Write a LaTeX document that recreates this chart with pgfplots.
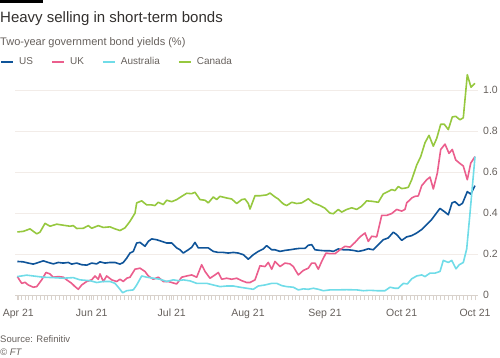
\documentclass[border=0pt]{standalone}
\usepackage{pgfplots}
\pgfplotsset{compat=1.18}
\usepackage{fontspec}
\setmainfont{Liberation Sans}
\definecolor{ftblue}{HTML}{0F5499}
\definecolor{ftpink}{HTML}{EB5E8D}
\definecolor{ftcyan}{HTML}{70DCE8}
\definecolor{ftgreen}{HTML}{96C83F}
\definecolor{fttext}{HTML}{33302E}
\definecolor{ftgrey}{HTML}{66605C}
\definecolor{ftgrid}{HTML}{F2ECE8}
\definecolor{fttick}{HTML}{D9D2CC}
\begin{document}
\begin{tikzpicture}[x=1pt,y=1pt]
\useasboundingbox (0,0) rectangle (500,-357);
\fill[black] (0,0) rectangle (42.7,-2.7);
\node[anchor=base west, inner sep=0pt, text=fttext, font=\fontsize{15}{17}\selectfont] at (0,-22.7) {Heavy selling in short-term bonds};
\node[anchor=base west, inner sep=0pt, text=ftgrey, font=\fontsize{11}{13}\selectfont] at (0,-45) {Two-year government bond yields (\%)};
\node[anchor=base west, inner sep=0pt, text=ftgrey, font=\fontsize{9.5}{11}\selectfont] at (0,-342.5) {Source: Refinitiv};
\node[anchor=base west, inner sep=0pt, text=ftgrey, font=\fontsize{9.5}{11}\selectfont\itshape] at (0,-355.5) {\textcopyright{} FT};
\begin{axis}[
  at={(15pt,-295pt)}, anchor=south west,
  scale only axis, x=1pt, y=204.7pt,
  xmin=15, xmax=478, ymin=0, ymax=1.1,
  enlargelimits=false, clip=false,
  axis line style={draw=none},
  ymajorgrids, grid style={ftgrid, line width=0.8pt},
  ytick={0,0.2,0.4,0.6,0.8,1.0},
  yticklabels={0,0.2,0.4,0.6,0.8,1.0},
  yticklabel pos=right,
  ytick style={draw=none},
  yticklabel style={anchor=west, inner sep=0pt, xshift=0pt},
  xtick={18.3,91.7,171.7,248,325,401.7,475},
  xticklabels={Apr 21,Jun 21,Jul 21,Aug 21,Sep 21,Oct 21,Oct 21},
  minor xtick={17.3,21.114,...,476},
  xtick pos=bottom,
  tick align=outside,
  major tick length=5pt, minor tick length=5pt,
  x tick style={fttick, line width=0.8pt},
  minor x tick style={fttick, line width=0.8pt},
  xticklabel style={anchor=north, inner sep=0pt, yshift=-9pt},
  ticklabel style={text=ftgrey, font=\fontsize{10.5}{12}\selectfont},
  /pgf/number format/assume math mode=true,
  legend columns=4,
  legend style={at={(axis cs:0,1.138)}, anchor=west, draw=none, fill=none, inner sep=0pt,
    font=\fontsize{10}{12}\selectfont, text=ftgrey,
    nodes={inner sep=0pt},
    column sep=5pt,
    /tikz/every even column/.append style={column sep=18pt}},
  legend cell align=left,
  legend image code/.code={\draw[#1, line width=2pt] (0pt,0pt) -- (12pt,0pt);},
]
\draw[fttick, line width=0.8pt] (axis cs:15,0) -- (axis cs:478,0);
\addplot[ftblue, line width=1.6pt, line join=round, mark=none] coordinates {
(17.3,0.164)(23.3,0.162)(28.3,0.156)(33.3,0.151)(36.7,0.156)(43.3,0.167)(48.3,0.159)(53.3,0.152)(58.3,0.159)(63.3,0.156)(68.3,0.159)(71.7,0.151)(76.7,0.156)(81.7,0.148)(86.7,0.146)(91.7,0.156)(96.7,0.152)(100,0.162)(105,0.156)(110,0.159)(115,0.159)(120,0.151)(123.3,0.159)(126.7,0.180)(130,0.205)(133.3,0.213)(136.7,0.254)(140,0.257)(145,0.238)(148.3,0.262)(151.7,0.274)(156.7,0.270)(161.7,0.262)(166.7,0.254)(171.7,0.254)(176.7,0.23)(180,0.221)(183.3,0.205)(188.3,0.221)(191.7,0.233)(195,0.257)(198.3,0.23)(203.3,0.23)(208.3,0.23)(213.3,0.213)(218.3,0.208)(223.3,0.208)(228.3,0.205)(233.3,0.208)(238.3,0.205)(243.3,0.197)(248.3,0.175)(253.3,0.197)(258.3,0.213)(263.3,0.225)(266.7,0.241)(271.7,0.221)(275,0.221)(280,0.213)(285,0.218)(290,0.221)(295,0.225)(300,0.228)(305,0.228)(308.3,0.243)(311.7,0.246)(315,0.221)(320,0.218)(325,0.216)(330,0.216)(333.3,0.213)(338.3,0.225)(343.3,0.221)(348.3,0.221)(353.3,0.218)(358.3,0.213)(363.3,0.218)(368.3,0.226)(373.3,0.221)(378.3,0.246)(383.3,0.27)(388.3,0.279)(393.3,0.307)(396.7,0.295)(401.7,0.267)(406.7,0.284)(411.7,0.29)(416.7,0.303)(421.7,0.32)(426.7,0.344)(431.7,0.369)(436.7,0.402)(440,0.423)(445,0.405)(448.3,0.392)(452,0.450)(455,0.456)(459,0.437)(462.5,0.448)(467.3,0.505)(470.7,0.493)(475,0.534)
};
\addlegendentry{US}
\addplot[ftpink, line width=1.6pt, line join=round, mark=none] coordinates {
(17.3,0.09)(21.7,0.057)(25,0.062)(28.3,0.049)(33.3,0.038)(36.7,0.041)(41.7,0.074)(46,0.11)(50,0.103)(53.3,0.087)(58.3,0.09)(63.3,0.087)(66.7,0.074)(71.7,0.057)(75,0.041)(78.3,0.028)(81.7,0.049)(86.7,0.066)(91.7,0.074)(95,0.093)(98.3,0.077)(100,0.103)(103.3,0.066)(106.7,0.093)(111.7,0.074)(116.7,0.066)(120,0.077)(123.3,0.066)(126.7,0.082)(130,0.087)(135,0.126)(140,0.131)(145,0.115)(148.3,0.093)(153.3,0.077)(158.3,0.087)(163.3,0.066)(168.3,0.066)(171.7,0.061)(176.7,0.054)(181.7,0.087)(186.7,0.093)(191.7,0.098)(196.7,0.087)(201.7,0.148)(205,0.115)(210,0.082)(215,0.098)(218.3,0.11)(221.7,0.077)(226.7,0.082)(231.7,0.077)(236.7,0.082)(241.7,0.07)(246.7,0.061)(250,0.061)(255,0.074)(260,0.143)(265,0.139)(268.3,0.159)(271.7,0.126)(275,0.164)(280,0.139)(285,0.156)(290,0.152)(293.3,0.139)(298.3,0.098)(303.3,0.12)(308.3,0.131)(311.7,0.156)(315,0.156)(318.3,0.126)(321.7,0.164)(326,0.205)(330,0.202)(335,0.202)(340,0.221)(345,0.238)(350,0.234)(355,0.257)(360,0.284)(365,0.303)(368.3,0.262)(371.7,0.287)(376.7,0.284)(381.7,0.389)(386.7,0.389)(391.7,0.398)(396.7,0.418)(401.7,0.41)(405,0.418)(406.7,0.45)(411.7,0.474)(415,0.482)(418.3,0.484)(421.7,0.534)(426.7,0.563)(430,0.576)(433.3,0.518)(437.3,0.595)(440.7,0.711)(445,0.737)(449,0.692)(452.3,0.711)(455.7,0.66)(459.3,0.645)(463.3,0.63)(467.3,0.563)(470.7,0.644)(475,0.676)
};
\addlegendentry{UK}
\addplot[ftcyan, line width=1.6pt, line join=round, mark=none] coordinates {
(17.3,0.09)(26.7,0.097)(33.3,0.093)(43.3,0.087)(53.3,0.085)(63.3,0.082)(73.3,0.085)(80,0.074)(90,0.070)(96.7,0.061)(103.3,0.066)(110,0.066)(115,0.057)(118.3,0.038)(122.7,0.011)(126.7,0.021)(133.3,0.025)(136.7,0.049)(141.7,0.093)(146.7,0.087)(153.3,0.082)(160,0.077)(166.7,0.066)(173.3,0.074)(178.3,0.070)(183.3,0.074)(190,0.069)(196.7,0.057)(206.7,0.057)(213.3,0.049)(220,0.041)(226.7,0.044)(233.3,0.044)(240,0.038)(246.7,0.033)(253.3,0.028)(258.3,0.044)(265,0.049)(271.7,0.057)(276.7,0.057)(281.7,0.046)(286.7,0.041)(293.3,0.038)(298.3,0.025)(303.3,0.03)(308.3,0.028)(313.3,0.033)(318.3,0.028)(323.3,0.021)(330,0.025)(336.7,0.025)(346.7,0.026)(356.7,0.025)(363.3,0.021)(370,0.023)(376.7,0.021)(385,0.021)(390,0.038)(395,0.033)(398.3,0.033)(403.3,0.057)(407.3,0.054)(411.7,0.079)(416.7,0.093)(421.7,0.098)(425,0.09)(430,0.107)(435,0.107)(440,0.115)(443.3,0.169)(448.3,0.159)(451.7,0.169)(456,0.128)(459.3,0.148)(463.3,0.159)(466.7,0.225)(470,0.40)(475,0.676)
};
\addlegendentry{Australia}
\addplot[ftgreen, line width=1.6pt, line join=round, mark=none] coordinates {
(17.3,0.308)(23.3,0.311)(30,0.323)(36.7,0.299)(40,0.307)(45,0.35)(50,0.336)(56.7,0.346)(63.3,0.341)(70,0.336)(73.3,0.339)(76.7,0.325)(83.3,0.326)(88.3,0.339)(91.7,0.326)(98.3,0.339)(103.3,0.33)(110,0.333)(115,0.323)(120,0.315)(125,0.328)(130,0.36)(135,0.40)(136.7,0.45)(141.7,0.46)(146.7,0.44)(151.7,0.44)(155,0.437)(158.3,0.453)(163.3,0.442)(166.7,0.463)(171.7,0.456)(176.7,0.466)(181.7,0.482)(186.7,0.497)(191.7,0.495)(195,0.502)(200,0.466)(205,0.463)(208.3,0.45)(213.3,0.479)(216.7,0.466)(220,0.482)(226.7,0.474)(231.7,0.469)(236.7,0.447)(241.7,0.466)(245,0.469)(248.3,0.447)(250,0.42)(255,0.485)(260,0.485)(266.7,0.489)(270,0.498)(275,0.479)(278.3,0.469)(283.3,0.445)(286.7,0.437)(291.7,0.453)(296.7,0.447)(301.7,0.45)(308.3,0.47)(313.3,0.45)(320,0.437)(325,0.424)(330,0.40)(333.3,0.397)(338.3,0.418)(341.7,0.405)(346.7,0.418)(351.7,0.426)(356.7,0.418)(361.7,0.434)(366.7,0.46)(371.7,0.458)(378.3,0.453)(383.3,0.494)(388.3,0.506)(391.7,0.515)(395,0.51)(398.3,0.53)(401.7,0.52)(405,0.522)(408.3,0.526)(411.7,0.563)(416.7,0.635)(420.7,0.676)(425,0.744)(429,0.78)(433.3,0.727)(436.7,0.765)(440.7,0.834)(444.3,0.834)(448.3,0.808)(452.3,0.87)(455.7,0.873)(460,0.856)(463.3,0.866)(467.3,1.076)(471,1.015)(475,1.034)
};
\addlegendentry{Canada}
\end{axis}
\end{tikzpicture}
\end{document}
